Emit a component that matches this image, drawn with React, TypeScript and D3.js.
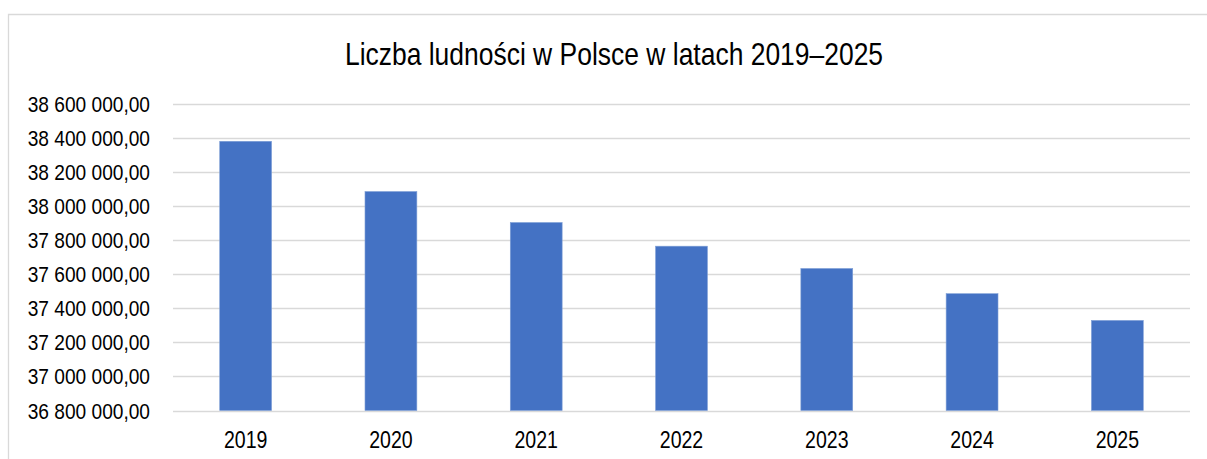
import React from "react";
import * as d3 from "d3";

const title = "Liczba ludności w Polsce w latach 2019–2025";
const years = ["2019", "2020", "2021", "2022", "2023", "2024", "2025"];
const population = [38381000, 38086000, 37904000, 37765000, 37634000, 37486000, 37329000];
const yTicks = [36800000, 37000000, 37200000, 37400000, 37600000, 37800000, 38000000, 38200000, 38400000, 38600000];

const W = 1207;
const H = 459;
const FONT = "'Liberation Sans', Arial, sans-serif";

const fmt = (v: number) => {
  const s = Math.round(v).toString().replace(/\B(?=(\d{3})+(?!\d))/g, " ");
  return s + ",00";
};

function NText(props: { x: number; y: number; anchor: string; size: number; sx: number; children: React.ReactNode }) {
  return (
    <g transform={`translate(${props.x},${props.y}) scale(${props.sx},1)`}>
      <text x={0} y={0} textAnchor={props.anchor} fontSize={props.size} fill="#000">{props.children}</text>
    </g>
  );
}

export default function App() {
  const left = 173;
  const right = 1190;
  const top = 104;
  const bottom = 410.5;

  const x = d3.scaleBand<string>().domain(years).range([left, right]).paddingInner(0.643).paddingOuter(0.3215);
  const y = d3.scaleLinear().domain([36800000, 38600000]).range([bottom, top]);

  return (
    <svg width={W} height={H} style={{ position: "absolute", left: 0, top: 0, background: "#fff" }} fontFamily={FONT}>
      <rect x={0} y={0} width={W} height={H} fill="#fff" />
      <path d={`M8.5,${H + 2} V14.5 H${W + 2}`} fill="none" stroke="#d9d9d9" strokeWidth={1.3} />
      <NText x={614} y={65} anchor="middle" size={31.5} sx={0.84}>{title}</NText>
      {yTicks.map((t) => (
        <g key={t}>
          <line x1={left} x2={right} y1={Math.round(y(t)) + 0.5} y2={Math.round(y(t)) + 0.5} stroke="#d9d9d9" strokeWidth={1.3} />
          <NText x={150} y={y(t) + 8} anchor="end" size={22.5} sx={0.85}>{fmt(t)}</NText>
        </g>
      ))}
      {years.map((yr, i) => (
        <g key={yr}>
          <rect x={x(yr)} y={y(population[i])} width={x.bandwidth()} height={bottom - y(population[i])} fill="#4472c4" stroke="#7f9fd6" strokeWidth={0.6} />
          <NText x={(x(yr) as number) + x.bandwidth() / 2} y={448.3} anchor="middle" size={23} sx={0.85}>{yr}</NText>
        </g>
      ))}
    </svg>
  );
}
